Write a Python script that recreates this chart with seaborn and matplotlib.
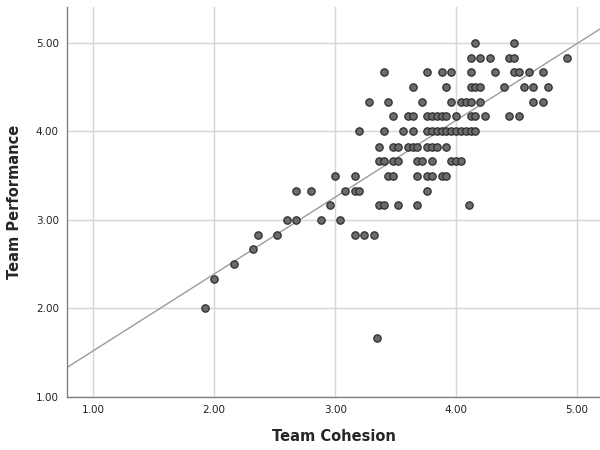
import numpy as np
import pandas as pd
import matplotlib
matplotlib.use("Agg")
import matplotlib.pyplot as plt
import seaborn as sns

# Points, grouped by performance level (rows of the scatter)
team_cohesion = [
    1.92,                                   # 2.00
    2.00,                                   # 2.33
    2.16,                                   # 2.50
    2.32,                                   # 2.67
    2.36, 2.52, 3.16, 3.24, 3.32,           # 2.83
    2.60, 2.68, 2.88, 3.04,                 # 3.00
    2.96, 3.36, 3.40, 3.52, 3.68, 4.11,     # 3.17
    2.68, 2.80, 3.08, 3.16, 3.20, 3.76,     # 3.33
    3.00, 3.16, 3.44, 3.48, 3.68, 3.76, 3.80, 3.88, 3.92,                # 3.50
    3.36, 3.40, 3.48, 3.52, 3.68, 3.72, 3.80, 3.96, 4.00, 4.04,          # 3.67
    3.36, 3.48, 3.52, 3.60, 3.64, 3.68, 3.76, 3.80, 3.84, 3.92,          # 3.83
    3.20, 3.40, 3.56, 3.64, 3.76, 3.80, 3.84, 3.88, 3.92, 3.96, 4.00,
    4.04, 4.08, 4.12, 4.16,                                              # 4.00
    3.48, 3.60, 3.64, 3.76, 3.80, 3.84, 3.88, 3.92, 4.00, 4.12, 4.16,
    4.24, 4.44, 4.52,                                                    # 4.17
    3.28, 3.44, 3.72, 3.96, 4.04, 4.08, 4.12, 4.20, 4.64, 4.72,          # 4.33
    3.64, 3.92, 4.12, 4.16, 4.20, 4.40, 4.56, 4.64, 4.76,                # 4.50
    3.40, 3.76, 3.88, 3.96, 4.12, 4.32, 4.48, 4.52, 4.60, 4.72,          # 4.67
    4.12, 4.20, 4.28, 4.44, 4.48, 4.92,                                  # 4.83
    4.16, 4.48,                                                          # 5.00
    3.35,                                                                # 1.67
]
level_values = [2.00, 2.33, 2.50, 2.67, 2.83, 3.00, 3.17, 3.33, 3.50, 3.67,
                3.83, 4.00, 4.17, 4.33, 4.50, 4.67, 4.83, 5.00, 1.67]
level_counts = [1, 1, 1, 1, 5, 4, 6, 6, 9, 10, 10, 15, 14, 10, 9, 10, 6, 2, 1]
team_performance = [v for v, n in zip(level_values, level_counts) for _ in range(n)]

tick_values = [1.00, 2.00, 3.00, 4.00, 5.00]

df = pd.DataFrame({"Team Cohesion": team_cohesion, "Team Performance": team_performance})

sns.set_theme(style="white")
plt.rcParams["font.family"] = ["DejaVu Sans"]

fig = plt.figure(figsize=(6, 4.5), dpi=100)
ax = fig.add_axes([0.112, 0.118, 0.888, 0.867])

ax.set_xlim(0.784, 5.19)
ax.set_ylim(1.0, 5.41)
ax.set_xticks(tick_values)
ax.set_yticks(tick_values)
ax.grid(True, color="#d6d6d6", linewidth=1.0)
ax.set_axisbelow(True)

# fit line across the whole x range, like the SPSS "fit line at total"
sns.regplot(data=df, x="Team Cohesion", y="Team Performance", ax=ax,
            scatter=False, ci=None, truncate=False,
            line_kws=dict(color="#9c9c9c", linewidth=1.0))
sns.scatterplot(data=df, x="Team Cohesion", y="Team Performance", ax=ax,
                s=28, color="#6b6b6b", edgecolor="#2e2e2e", linewidth=0.9, zorder=3)

ax.set_xlim(0.784, 5.19)
ax.set_ylim(1.0, 5.41)
ax.xaxis.set_major_formatter(lambda v, _: f"{v:.2f}")
ax.yaxis.set_major_formatter(lambda v, _: f"{v:.2f}")
ax.tick_params(labelsize=7.5, colors="#222222", length=0, pad=6)

for side in ("top", "right"):
    ax.spines[side].set_visible(False)
for side in ("left", "bottom"):
    ax.spines[side].set_color("#808080")
    ax.spines[side].set_linewidth(1.0)

ax.set_xlabel("Team Cohesion", fontsize=10.5, fontweight="bold", labelpad=10)
ax.set_ylabel("Team Performance", fontsize=10.5, fontweight="bold", labelpad=10)

fig.savefig("out.png", dpi=100)
